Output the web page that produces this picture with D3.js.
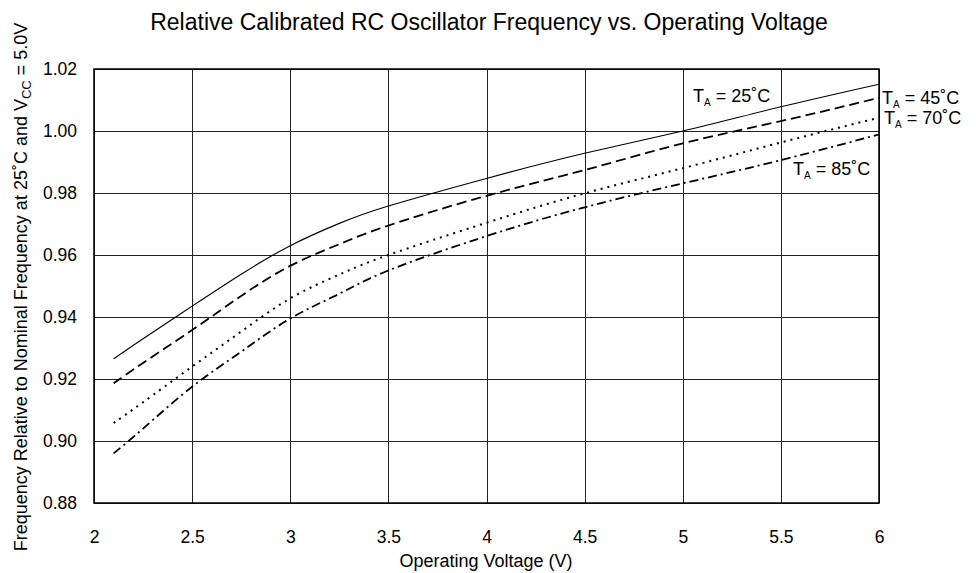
<!DOCTYPE html>
<html>
<head>
<meta charset="utf-8">
<script src="https://cdn.jsdelivr.net/npm/d3@7"></script>
<style>
  html, body { margin: 0; padding: 0; background: #fff; }
  svg { display: block; font-family: "Liberation Sans", Arial, Helvetica, sans-serif; }
</style>
</head>
<body>
<svg id="chart" width="976" height="573"></svg>
<script>
// ---- data ----
const voltages = [2.1, 2.25, 2.5, 2.75, 3.0, 3.25, 3.5, 4.0, 4.5, 5.0, 5.5, 6.0];
const freq25 = [0.9265, 0.9330, 0.9435, 0.9538, 0.9630, 0.9702, 0.9758, 0.9847, 0.9928, 1.0000, 1.0078, 1.0151];
const freq45 = [0.9186, 0.9252, 0.9358, 0.9468, 0.9565, 0.9635, 0.9695, 0.9791, 0.9874, 0.9960, 1.0032, 1.0107];
const freq70 = [0.9058, 0.9125, 0.9240, 0.9353, 0.9460, 0.9537, 0.9600, 0.9704, 0.9799, 0.9880, 0.9963, 1.0043];
const freq85 = [0.8960, 0.9040, 0.9175, 0.9288, 0.9395, 0.9475, 0.9550, 0.9661, 0.9754, 0.9831, 0.9906, 0.9989];
const seriesLabels = ["25", "45", "70", "85"];
const xTicks = [2, 2.5, 3, 3.5, 4, 4.5, 5, 5.5, 6];
const xTickLabels = ["2", "2.5", "3", "3.5", "4", "4.5", "5", "5.5", "6"];
const yTicks = [0.88, 0.90, 0.92, 0.94, 0.96, 0.98, 1.00, 1.02];
const yTickLabels = ["0.88", "0.90", "0.92", "0.94", "0.96", "0.98", "1.00", "1.02"];

(function () {
const seriesValues = [freq25, freq45, freq70, freq85];
const styles = [
  { dash: null, width: 1.1 },
  { dash: "10,5", width: 1.8 },
  { dash: "2,5", width: 2 },
  { dash: "9,4,2,4", width: 1.8 }
];
const labelPos = [
  { x: 693, y: 102 },
  { x: 882, y: 104 },
  { x: 884, y: 124 },
  { x: 793, y: 175 }
];

const svg = d3.select("#chart");
const mLeft = 94, mRight = 879, mTop = 69, mBottom = 503;
const x = d3.scaleLinear().domain([2, 6]).range([mLeft, mRight]);
const y = d3.scaleLinear().domain([0.88, 1.02]).range([mBottom, mTop]);

// grid
const grid = svg.append("g").attr("stroke", "#222").attr("stroke-width", 1).attr("shape-rendering", "crispEdges");
grid.selectAll("line.v").data(xTicks).join("line").attr("class", "v")
  .attr("x1", d => Math.round(x(d)) + 0.5).attr("x2", d => Math.round(x(d)) + 0.5)
  .attr("y1", mTop).attr("y2", mBottom);
grid.selectAll("line.h").data(yTicks).join("line").attr("class", "h")
  .attr("y1", d => Math.round(y(d)) + 0.5).attr("y2", d => Math.round(y(d)) + 0.5)
  .attr("x1", mLeft).attr("x2", mRight);

// frame
svg.append("rect").attr("x", mLeft).attr("y", mTop).attr("width", mRight - mLeft).attr("height", mBottom - mTop)
  .attr("fill", "none").attr("stroke", "#000").attr("stroke-width", 1.5);

// axes via d3 axis (labels only)
const xAxis = d3.axisBottom(x).tickValues(xTicks).tickFormat((d, i) => xTickLabels[i]).tickSize(0).tickPadding(28);
const gx = svg.append("g").attr("transform", `translate(0,${mBottom})`).call(xAxis);
gx.select(".domain").remove();
gx.selectAll("text").attr("font-size", 17.5).attr("fill", "#000").attr("font-family", "Liberation Sans, Arial, sans-serif");

const yAxis = d3.axisLeft(y).tickValues(yTicks).tickFormat((d, i) => yTickLabels[i]).tickSize(0).tickPadding(17);
const gy = svg.append("g").attr("transform", `translate(${mLeft},0)`).call(yAxis);
gy.select(".domain").remove();
gy.selectAll("text").attr("font-size", 17.5).attr("fill", "#000").attr("font-family", "Liberation Sans, Arial, sans-serif");

// lines
const line = d3.line().x((d, i) => x(voltages[i])).y(d => y(d)).curve(d3.curveNatural);
seriesValues.forEach((vals, k) => {
  svg.append("path").datum(vals).attr("d", line)
    .attr("fill", "none").attr("stroke", "#000")
    .attr("stroke-width", styles[k].width)
    .attr("stroke-dasharray", styles[k].dash)
    .attr("stroke-linecap", "butt");
});

// series labels
seriesLabels.forEach((lab, k) => {
  const t = svg.append("text").attr("x", labelPos[k].x).attr("y", labelPos[k].y)
    .attr("font-size", 18).attr("fill", "#000");
  t.append("tspan").text("T");
  t.append("tspan").attr("font-size", 10).attr("dy", 4).text("A");
  t.append("tspan").attr("dy", -4).text(" = " + lab + "˚C");
});

// title
svg.append("text").attr("x", 489).attr("y", 30).attr("text-anchor", "middle")
  .attr("font-size", 23).attr("fill", "#000")
  .text("Relative Calibrated RC Oscillator Frequency vs. Operating Voltage");

// x axis title
svg.append("text").attr("x", 486).attr("y", 567).attr("text-anchor", "middle")
  .attr("font-size", 18).attr("fill", "#000").text("Operating Voltage (V)");

// y axis title
const yt = svg.append("text").attr("transform", "translate(27,287) rotate(-90)")
  .attr("text-anchor", "middle").attr("font-size", 18).attr("fill", "#000");
yt.append("tspan").text("Frequency Relative to Nominal Frequency at 25˚C and V");
yt.append("tspan").attr("font-size", 13).attr("dy", 4).text("CC");
yt.append("tspan").attr("dy", -4).text(" = 5.0V");
})();
</script>
</body>
</html>
